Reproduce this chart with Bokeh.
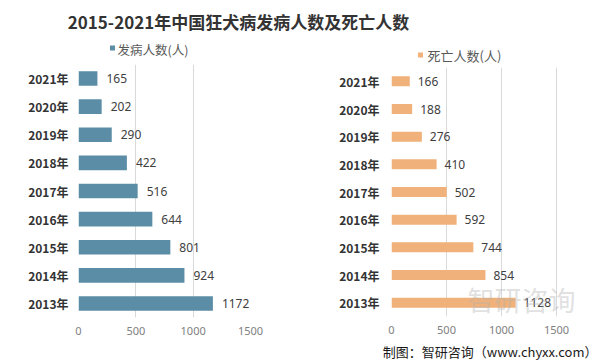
from bokeh.plotting import figure
from bokeh.models import Label, FixedTicker, FactorRange, Range1d, ColumnDataSource
from bokeh.layouts import column, row
from bokeh.embed import file_html
from bokeh.resources import INLINE
from bokeh.core.properties import value

years = ["2013年", "2014年", "2015年", "2016年", "2017年", "2018年", "2019年", "2020年", "2021年"]
cases = [1172, 924, 801, 644, 516, 422, 290, 202, 165]
deaths = [1128, 854, 744, 592, 502, 410, 276, 188, 166]
x_ticks = [0, 500, 1000, 1500]
title_text = "2015-2021年中国狂犬病发病人数及死亡人数"
legend_cases = "发病人数(人)"
legend_deaths = "死亡人数(人)"
source_text = "制图：智研咨询（www.chyxx.com）"
watermark = "智研咨询"

CJK = "Noto Sans CJK SC"
NUM = "Noto Sans"
BLUE = "#5b8ea6"
ORANGE = "#f0b27a"
TOP_H = 64
ROW_H = 275


def panel(vals, color, width, bl, br, bt, bb, bar_h, label_off, cat_standoff, x_end):
    src = ColumnDataSource(dict(y=years, v=vals, t=[str(x) for x in vals]))
    p = figure(width=width, height=ROW_H, y_range=FactorRange(factors=years),
               x_range=Range1d(0, x_end), output_backend="svg", toolbar_location=None,
               min_border_left=bl, min_border_right=br, min_border_top=bt, min_border_bottom=bb)
    p.outline_line_color = None
    p.background_fill_color = "white"
    p.border_fill_color = "white"
    p.hbar(y="y", right="v", left=0, height=bar_h, source=src, fill_color=color, line_color=None)
    p.text(x="v", y="y", text="t", source=src, x_offset=label_off, text_baseline="middle",
           text_align="left", text_font=value(NUM), text_font_size="12px", text_color="#404040")
    p.ygrid.grid_line_color = None
    p.xgrid.grid_line_color = "#d9d9d9"
    p.xaxis.ticker = FixedTicker(ticks=x_ticks)
    p.xaxis.axis_line_color = None
    p.xaxis.major_tick_line_color = None
    p.xaxis.minor_tick_line_color = None
    p.xaxis.major_tick_out = 0
    p.xaxis.major_label_standoff = 9
    p.xaxis.major_label_text_font = NUM
    p.xaxis.major_label_text_font_size = "11px"
    p.xaxis.major_label_text_color = "#808080"
    p.yaxis.axis_line_color = None
    p.yaxis.major_tick_line_color = None
    p.yaxis.major_tick_out = 0
    p.yaxis.major_label_standoff = cat_standoff
    p.yaxis.major_label_text_font = CJK
    p.yaxis.major_label_text_font_style = "bold"
    p.yaxis.major_label_text_font_size = "12px"
    p.yaxis.major_label_text_color = "#333333"
    return p


# left panel: frame 78..250 px ; right panel: 0 at 391 px, 1500 at 556 px, frame runs to the edge
left = panel(cases, BLUE, 305, 78, 55, 0, 22, 0.52, 9, 10, 1500)
right = panel(deaths, ORANGE, 298, 86, 0, 3, 23, 0.36, 8, 12, 1500 * (603 - 391) / (556 - 391))

# watermark (frame-relative screen units)
right.add_layout(Label(x=76, y=-2, x_units="screen", y_units="screen", text=watermark,
                       text_font=CJK, text_font_size="27px", text_color="#b0b0b0",
                       text_alpha=0.4, text_baseline="bottom"))


def strip(h):
    s = figure(width=603, height=h, x_range=Range1d(0, 603), y_range=Range1d(h, 0),
               output_backend="svg", toolbar_location=None,
               min_border_left=0, min_border_right=0, min_border_top=0, min_border_bottom=0)
    s.axis.visible = False
    s.grid.visible = False
    s.outline_line_color = None
    s.background_fill_color = "white"
    s.border_fill_color = "white"
    return s


top = strip(TOP_H)
top.add_layout(Label(x=238, y=21, text=title_text, text_font=CJK, text_font_style="bold",
                     text_font_size="17px", text_color="#333333", text_align="center",
                     text_baseline="middle"))
top.scatter(x=[112, 420], y=[47.5, 54.5], marker="square", size=5,
            fill_color=[BLUE, ORANGE], line_color=None)
top.add_layout(Label(x=117, y=49, text=legend_cases, text_font=CJK, text_font_size="12.5px",
                     text_color="#595959", text_baseline="middle"))
top.add_layout(Label(x=427, y=55, text=legend_deaths, text_font=CJK, text_font_size="13px",
                     text_color="#595959", text_baseline="middle"))

bottom = strip(22)
bottom.add_layout(Label(x=597, y=12, text=source_text, text_font=CJK, text_font_size="13px",
                        text_color="#1a1a1a", text_align="right", text_baseline="middle"))

layout = column(top, row(column(left), column(right), spacing=0), bottom, spacing=0)
open("out.html", "w").write(file_html(layout, INLINE))
